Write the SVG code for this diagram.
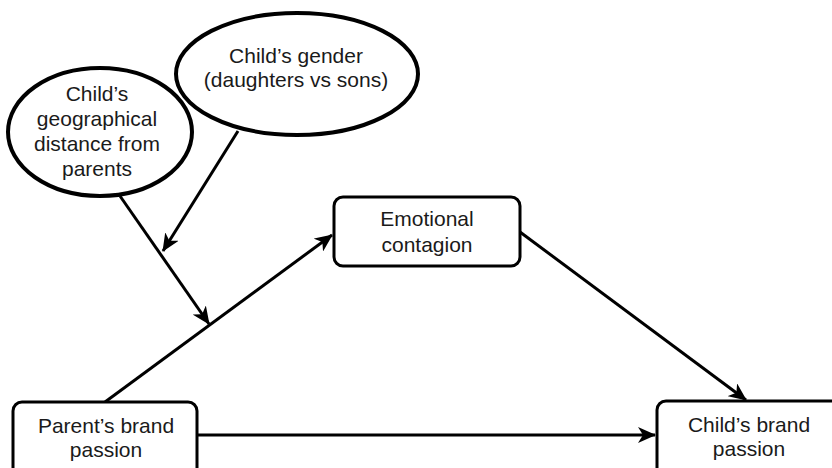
<svg xmlns="http://www.w3.org/2000/svg" width="832" height="468" viewBox="0 0 832 468">
<style>
.box{fill:#fff;stroke:#000;stroke-width:3}
.ell{fill:#fff;stroke:#000;stroke-width:4}
.t{font-family:"Liberation Sans",Arial,sans-serif;font-size:21px;fill:#1a1a1a;text-anchor:middle}
.c{fill:none;stroke:#000;stroke-width:3}
</style>
<defs>
<marker id="ah" viewBox="0 0 18 16" refX="17" refY="8" markerWidth="18" markerHeight="16" markerUnits="userSpaceOnUse" orient="auto">
<path d="M0,0 L18,8 L0,16 L5,8 Z" fill="#000"/>
</marker>
</defs>
<rect width="832" height="468" fill="#fff"/>
<g id="connectors">
<line class="c" x1="197" y1="435" x2="655" y2="435" marker-end="url(#ah)"/>
<line class="c" x1="105" y1="402" x2="332" y2="235" marker-end="url(#ah)"/>
<line class="c" x1="520" y1="232" x2="746" y2="400" marker-end="url(#ah)"/>
<line class="c" x1="238" y1="131" x2="163" y2="251" marker-end="url(#ah)"/>
<line class="c" x1="120" y1="196" x2="209" y2="324" marker-end="url(#ah)"/>
</g>
<g id="gender">
<ellipse class="ell" cx="297" cy="74" rx="121" ry="61"/>
<text class="t" x="296" y="63">Child’s gender</text>
<text class="t" x="296" y="87">(daughters vs sons)</text>
</g>
<g id="distance">
<ellipse class="ell" cx="100" cy="132" rx="92" ry="64"/>
<text class="t" x="97" y="101">Child’s</text>
<text class="t" x="97" y="126">geographical</text>
<text class="t" x="97" y="151">distance from</text>
<text class="t" x="97" y="176">parents</text>
</g>
<g id="emotional">
<rect class="box" x="334" y="197" width="186" height="69" rx="9"/>
<text class="t" x="427" y="226">Emotional</text>
<text class="t" x="427" y="252">contagion</text>
</g>
<g id="parent">
<rect class="box" x="13" y="402" width="184" height="80" rx="9"/>
<text class="t" x="106" y="433">Parent’s brand</text>
<text class="t" x="106" y="457">passion</text>
</g>
<g id="child">
<rect class="box" x="657" y="401" width="184" height="80" rx="9"/>
<text class="t" x="749" y="432">Child’s brand</text>
<text class="t" x="749" y="456">passion</text>
</g>
</svg>
